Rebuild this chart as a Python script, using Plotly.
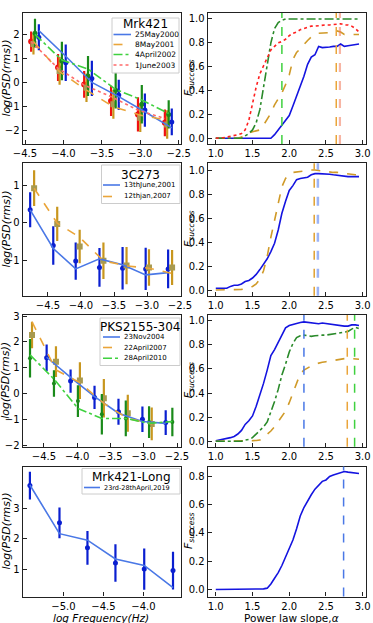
import plotly.graph_objects as go

FONT = "DejaVu Sans"

# ---------------- Left panels: PSD data ----------------
# Row 1: Mrk421
mrk_2000_x = [-4.32, -3.97, -3.63, -3.28, -2.94, -2.59]
mrk_2000_y = [1.89, 0.83, 0.18, -0.51, -1.14, -1.63]
mrk_2000_e = [0.54, 0.76, 0.73, 0.63, 0.69, 0.56]
mrk_2000_fit = [2.17, 1.10, 0.01, -0.58, -1.21, -1.88]

mrk_2001_x = [-4.39, -4.05, -3.70, -3.35, -3.00, -2.65]
mrk_2001_y = [1.61, 0.49, -0.21, -0.90, -1.46, -1.74]
mrk_2001_e = [0.44, 0.58, 0.59, 0.60, 0.59, 0.59]
mrk_2001_fit = [1.71, 0.46, -0.31, -1.00, -1.35, -1.56]

mrk_2002_x = [-4.37, -4.02, -3.68, -3.32, -2.98, -2.63]
mrk_2002_y = [2.06, 0.90, 0.28, -0.31, -0.90, -1.32]
mrk_2002_e = [0.60, 0.80, 0.83, 0.76, 0.80, 0.59]
mrk_2002_fit = [2.01, 0.94, 0.57, -0.28, -0.72, -1.28]

mrk_2003_x = [-4.42, -4.07, -3.73, -3.38, -3.03, -2.68]
mrk_2003_y = [1.71, 0.63, -0.07, -0.76, -1.32, -1.67]
mrk_2003_e = [0.42, 0.56, 0.56, 0.63, 0.71, 0.56]
mrk_2003_fit = [1.71, 0.60, -0.10, -0.58, -1.14, -1.49]

# Row 2: 3C273
c3_2001_x = [-4.77, -4.42, -4.08, -3.72, -3.37, -3.02, -2.68]
c3_2001_y = [0.35, -0.61, -1.03, -1.20, -1.22, -1.24, -1.24]
c3_2001_e = [0.47, 0.52, 0.50, 0.52, 0.57, 0.57, 0.52]
c3_2001_fit = [0.35, -0.69, -1.24, -0.97, -1.13, -1.40, -1.34]

c3_2007_x = [-4.71, -4.36, -4.02, -3.66, -3.31, -2.97, -2.62]
c3_2007_y = [0.93, -0.03, -0.64, -1.02, -1.15, -1.20, -1.20]
c3_2007_e = [0.48, 0.46, 0.45, 0.49, 0.50, 0.49, 0.47]
c3_2007_fit = [0.93, -0.01, -0.39, -1.02, -1.16, -1.22, -1.36]

# Row 3: PKS2155-304
pks_2004_x = [-4.46, -4.10, -3.74, -3.38, -3.02, -2.67]
pks_2004_y = [1.39, 0.49, -0.14, -0.69, -0.98, -1.11]
pks_2004_e = [0.51, 0.45, 0.45, 0.50, 0.49, 0.48]
pks_2004_fit = [1.41, 0.63, -0.11, -0.75, -1.07, -1.14]

pks_2007_x = [-4.68, -4.32, -3.96, -3.60, -3.24, -2.88]
pks_2007_y = [2.27, 1.24, 0.51, -0.17, -0.75, -1.16]
pks_2007_e = [0.51, 0.59, 0.71, 0.74, 0.71, 0.63]
pks_2007_fit = [2.78, 0.92, 0.43, -0.37, -0.95, -1.16]

pks_2010_x = [-4.71, -4.35, -3.99, -3.63, -3.27, -2.92, -2.57]
pks_2010_y = [1.37, 0.40, -0.28, -0.79, -0.95, -1.09, -1.09]
pks_2010_e = [0.74, 0.51, 0.61, 0.78, 0.69, 0.61, 0.55]
pks_2010_fit = [1.50, 0.57, -0.56, -0.95, -0.95, -1.14, -1.07]

# Row 4: Mrk421-Long
long_x = [-5.42, -5.05, -4.70, -4.35, -3.99, -3.63]
long_y = [3.73, 2.52, 1.71, 1.22, 1.02, 0.97]
long_e = [0.45, 0.50, 0.55, 0.61, 0.67, 0.61]
long_fit = [3.75, 2.17, 1.96, 1.35, 1.14, 0.42]

# ---------------- Right panels: F_success vs slope ----------------
slope = [1.00, 1.05, 1.10, 1.15, 1.20, 1.25, 1.30, 1.35, 1.40, 1.45,
         1.50, 1.55, 1.60, 1.65, 1.70, 1.75, 1.80, 1.85, 1.90, 1.95,
         2.00, 2.05, 2.10, 2.15, 2.20, 2.25, 2.30, 2.35, 2.40, 2.45,
         2.50, 2.55, 2.60, 2.65, 2.70, 2.75, 2.80, 2.85, 2.90, 2.95]

f_mrk_2000 = [0, 0, 0, 0, 0, 0, 0, 0, 0, 0,
              0, 0, 0, 0, 0, 0, 0.03, 0.07, 0.10, 0.14,
              0.19, 0.27, 0.35, 0.44, 0.52, 0.62, 0.68, 0.70, 0.77, 0.76,
              0.76, 0.765, 0.77, 0.77, 0.79, 0.77, 0.775, 0.78, 0.785, 0.79]
f_mrk_2001 = [0, 0, 0, 0, 0, 0, 0, 0.01, 0.03, 0.045,
              0.055, 0.06, 0.07, 0.11, 0.16, 0.21, 0.28, 0.33, 0.38, 0.45,
              0.53, 0.66, 0.72, 0.75, 0.79, 0.82, 0.85, 0.87, 0.88, 0.88,
              0.88, 0.885, 0.89, 0.90, 0.89, 0.87, 0.87, 0.87, 0.87, 0.87]
f_mrk_2002 = [0, 0, 0, 0, 0, 0, 0, 0, 0.02, 0.04,
              0.07, 0.13, 0.24, 0.42, 0.63, 0.80, 0.92, 0.97, 0.99, 1.0,
              1.0, 1.0, 1.0, 1.0, 1.0, 1.0, 1.0, 1.0, 1.0, 1.0,
              1.0, 1.0, 1.0, 1.0, 1.0, 1.0, 1.0, 1.0, 1.0, 1.0]
f_mrk_2003 = [0, 0, 0.005, 0.01, 0.015, 0.02, 0.03, 0.04, 0.07, 0.15,
              0.30, 0.43, 0.54, 0.61, 0.68, 0.74, 0.77, 0.80, 0.81, 0.83,
              0.86, 0.88, 0.89, 0.91, 0.92, 0.93, 0.94, 0.94, 0.945, 0.945,
              0.95, 0.95, 0.955, 0.96, 0.96, 0.95, 0.95, 0.94, 0.92, 0.89]

f_c3_2001 = [0.015, 0.015, 0.015, 0.015, 0.03, 0.04, 0.04, 0.05, 0.07, 0.08,
             0.10, 0.13, 0.17, 0.21, 0.26, 0.32, 0.39, 0.50, 0.64, 0.74,
             0.83, 0.87, 0.92, 0.93, 0.935, 0.94, 0.96, 0.97, 0.97, 0.97,
             0.97, 0.965, 0.96, 0.955, 0.95, 0.945, 0.945, 0.945, 0.945, 0.945]
f_c3_2007 = [0, 0, 0, 0, 0, 0, 0, 0.005, 0.01, 0.02,
             0.03, 0.05, 0.09, 0.16, 0.28, 0.44, 0.59, 0.73, 0.86, 0.93,
             0.96, 0.98, 0.985, 0.99, 0.99, 0.995, 1.0, 1.0, 0.995, 0.99,
             0.99, 0.985, 0.98, 0.98, 0.975, 0.975, 0.97, 0.965, 0.96, 0.96]

f_pks_2004 = [0.005, 0.01, 0.015, 0.02, 0.03, 0.04, 0.06, 0.09, 0.14, 0.17,
              0.21, 0.29, 0.38, 0.48, 0.59, 0.71, 0.76, 0.82, 0.89, 0.94,
              0.96, 0.97, 0.98, 0.985, 0.99, 0.985, 0.98, 0.975, 0.975, 0.98,
              0.975, 0.97, 0.965, 0.96, 0.955, 0.955, 0.955, 0.965, 0.965, 0.96]
f_pks_2007 = [0, 0, 0, 0, 0, 0, 0, 0, 0, 0,
              0.005, 0.007, 0.01, 0.03, 0.055, 0.085, 0.12, 0.16, 0.20, 0.25,
              0.32, 0.40, 0.49, 0.56, 0.59, 0.61, 0.625, 0.64, 0.65, 0.655,
              0.66, 0.665, 0.67, 0.675, 0.68, 0.685, 0.69, 0.685, 0.68, 0.68]
f_pks_2010 = [0, 0, 0, 0, 0, 0, 0, 0, 0.01, 0.015,
              0.03, 0.06, 0.09, 0.12, 0.16, 0.24, 0.33, 0.43, 0.55, 0.64,
              0.74, 0.81, 0.86, 0.875, 0.88, 0.875, 0.87, 0.875, 0.88, 0.88,
              0.88, 0.885, 0.89, 0.90, 0.905, 0.905, 0.91, 0.93, 0.945, 0.935]

f_long = [0, 0, 0, 0, 0, 0, 0, 0, 0, 0,
          0, 0, 0.002, 0.005, 0.01, 0.04, 0.08, 0.12, 0.17, 0.23,
          0.29, 0.35, 0.43, 0.52, 0.58, 0.63, 0.67, 0.71, 0.74, 0.765,
          0.775, 0.80, 0.81, 0.82, 0.83, 0.835, 0.83, 0.825, 0.825, 0.82]

# best-fit slope markers (vertical dashed lines)
vl_row1 = [1.90, 2.64, 2.69]
vl_row2 = [2.34, 2.39]
vl_row3 = [2.20, 2.79, 2.89]
vl_row4 = [2.74]

# legend labels
leg1_title, leg1_names = "Mrk421", ["25May2000", "8May2001", "4April2002", "1June2003"]
leg2_title, leg2_names = "3C273", ["13thJune,2001", "12thjan,2007"]
leg3_title, leg3_names = "PKS2155-304", ["23Nov2004", "22April2007", "28April2010"]
leg4_title, leg4_names = "Mrk421-Long", ["23rd-28thApril,2019"]

# ---------------- Styles ----------------
BLUE_PT = "#0a1fd0"
BLUE_LN = "#4a78e6"
GOLD_PT = "#c8961e"
GOLD_MK = "#a89a50"
GOLD_LN = "#eaa53a"
GREEN_PT = "#1a8a1a"
GREEN_LN = "#3fd13f"
RED_PT = "#f01010"
RED_LN = "#ff6a6a"

W, H = 373, 623
fig = go.Figure()

XL = [22.7 / W, 181 / W]
XR = [207.7 / W, 366 / W]
rows_px = [(13, 144), (163.3, 295.7), (315, 446.7), (466.5, 596.5)]
YD = [[1 - b / H, 1 - t / H] for (t, b) in rows_px]


def pts(xa, ya, x, y, e, color, mcolor, symbol, size=5):
    fig.add_trace(go.Scatter(
        x=x, y=y, mode="markers", xaxis=xa, yaxis=ya, showlegend=False,
        marker=dict(color=mcolor, symbol=symbol, size=size, line=dict(width=0)),
        error_y=dict(type="data", array=e, color=color, thickness=2.2, width=0)))


def fitline(xa, ya, x, y, color, dash):
    fig.add_trace(go.Scatter(
        x=x, y=y, mode="lines", xaxis=xa, yaxis=ya, showlegend=False,
        line=dict(color=color, dash=dash, width=1.6)))


def curve(xa, ya, y, color, dash, width=1.6):
    fig.add_trace(go.Scatter(
        x=slope, y=y, mode="lines", xaxis=xa, yaxis=ya, showlegend=False,
        line=dict(color=color, dash=dash, width=width)))


# Row 1
pts("x", "y", mrk_2003_x, mrk_2003_y, mrk_2003_e, RED_PT, RED_PT, "circle", 6)
pts("x", "y", mrk_2001_x, mrk_2001_y, mrk_2001_e, GOLD_PT, GOLD_MK, "square", 6)
pts("x", "y", mrk_2002_x, mrk_2002_y, mrk_2002_e, GREEN_PT, GREEN_PT, "circle", 5)
pts("x", "y", mrk_2000_x, mrk_2000_y, mrk_2000_e, BLUE_PT, BLUE_PT, "circle", 5)
fitline("x", "y", mrk_2000_x, mrk_2000_fit, BLUE_LN, "solid")
fitline("x", "y", mrk_2001_x, mrk_2001_fit, GOLD_LN, "dash")
fitline("x", "y", mrk_2002_x, mrk_2002_fit, GREEN_LN, "dashdot")
fitline("x", "y", mrk_2003_x, mrk_2003_fit, RED_LN, "dot")

curve("x2", "y2", f_mrk_2000, "#1414e0", "solid")
curve("x2", "y2", f_mrk_2001, "#d09a28", "dash")
curve("x2", "y2", f_mrk_2002, "#2a8a2a", "dashdot")
curve("x2", "y2", f_mrk_2003, "#ff2020", "dot")

# Row 2
pts("x3", "y3", c3_2001_x, c3_2001_y, c3_2001_e, BLUE_PT, BLUE_PT, "circle", 5)
pts("x3", "y3", c3_2007_x, c3_2007_y, c3_2007_e, GOLD_PT, GOLD_MK, "square", 6)
fitline("x3", "y3", c3_2001_x, c3_2001_fit, BLUE_LN, "solid")
fitline("x3", "y3", c3_2007_x, c3_2007_fit, GOLD_LN, "dash")

curve("x4", "y4", f_c3_2001, "#1414e0", "solid")
curve("x4", "y4", f_c3_2007, "#d09a28", "dash")

# Row 3
pts("x5", "y5", pks_2004_x, pks_2004_y, pks_2004_e, BLUE_PT, BLUE_PT, "circle", 5)
pts("x5", "y5", pks_2007_x, pks_2007_y, pks_2007_e, GOLD_PT, GOLD_MK, "square", 6)
pts("x5", "y5", pks_2010_x, pks_2010_y, pks_2010_e, GREEN_PT, GREEN_PT, "circle", 4)
fitline("x5", "y5", pks_2004_x, pks_2004_fit, BLUE_LN, "solid")
fitline("x5", "y5", pks_2007_x, pks_2007_fit, GOLD_LN, "dash")
fitline("x5", "y5", pks_2010_x, pks_2010_fit, GREEN_LN, "dashdot")

curve("x6", "y6", f_pks_2004, "#1414e0", "solid")
curve("x6", "y6", f_pks_2007, "#d09a28", "dash")
curve("x6", "y6", f_pks_2010, "#2a8a2a", "dashdot")

# Row 4
pts("x7", "y7", long_x, long_y, long_e, BLUE_PT, BLUE_PT, "circle", 5)
fitline("x7", "y7", long_x, long_fit, BLUE_LN, "solid")

curve("x8", "y8", f_long, "#1414e0", "solid")

shapes = []
# vertical dashed lines
vcolors = {
    "x2": ["#3fd13f", "#eaa53a", "rgba(240,120,90,0.55)"],
    "x4": ["#e0a030", "rgba(90,130,240,0.6)"],
    "x6": ["#4a78e6", "#eaa53a", "#3fd13f"],
    "x8": ["#4a78e6"],
}
vwidths = {"x2": [1.5, 1.5, 2.2], "x4": [1.5, 2.5], "x6": [1.5, 1.5, 1.5], "x8": [1.5]}
for xa, ya, vals in [("x2", "y2", vl_row1), ("x4", "y4", vl_row2),
                     ("x6", "y6", vl_row3), ("x8", "y8", vl_row4)]:
    for i, v in enumerate(vals):
        shapes.append(dict(type="line", xref=xa, yref=ya + " domain", x0=v, x1=v, y0=0, y1=1,
                           line=dict(color=vcolors[xa][i], width=vwidths[xa][i], dash="dash")))

# axes
tickfont = dict(family=FONT, size=10, color="black")


def ax(domain, rng, anchor, tickvals=None, fmt=None):
    d = dict(domain=domain, range=rng, anchor=anchor, showgrid=False, zeroline=False,
             showline=True, mirror=True, linecolor="#222", linewidth=1.3,
             ticks="inside", ticklen=4, tickwidth=1, tickcolor="#222",
             tickfont=tickfont, automargin=False)
    if tickvals is not None:
        d["tickvals"] = tickvals
    if fmt is not None:
        d["tickformat"] = fmt
    return d


lx_t = [-4.5, -4.0, -3.5, -3.0, -2.5]
rx_t = [1.0, 1.5, 2.0, 2.5, 3.0]
ry_t = [0, 0.2, 0.4, 0.6, 0.8, 1.0]

layout = dict(
    xaxis=ax(XL, [-4.53, -2.47], "y", lx_t, ".1f"),
    yaxis=ax(YD[0], [-2.55, 2.9], "x", [-2, -1, 0, 1, 2], "d"),
    xaxis2=ax(XR, [0.89, 3.045], "y2", rx_t, ".1f"),
    yaxis2=ax(YD[0], [-0.048, 1.05], "x2", ry_t, ".1f"),
    xaxis3=ax(XL, [-4.883, -2.485], "y3", lx_t, ".1f"),
    yaxis3=ax(YD[1], [-1.96, 1.6], "x3", [-1, 0, 1], "d"),
    xaxis4=ax(XR, [0.89, 3.045], "y4", rx_t, ".1f"),
    yaxis4=ax(YD[1], [-0.0475, 1.056], "x4", ry_t, ".1f"),
    xaxis5=ax(XL, [-4.82, -2.44], "y5", lx_t, ".1f"),
    yaxis5=ax(YD[2], [-2.04, 3.04], "x5", [-2, -1, 0, 1, 2, 3], "d"),
    xaxis6=ax(XR, [0.89, 3.045], "y6", rx_t, ".1f"),
    yaxis6=ax(YD[2], [-0.045, 1.047], "x6", ry_t, ".1f"),
    xaxis7=ax(XL, [-5.51, -3.53], "y7", [-5.0, -4.5, -4.0], ".1f"),
    yaxis7=ax(YD[3], [0.13, 4.35], "x7", [1, 2, 3], "d"),
    xaxis8=ax(XR, [0.89, 3.045], "y8", rx_t, ".1f"),
    yaxis8=ax(YD[3], [-0.049, 0.87], "x8", [0, 0.2, 0.4, 0.6, 0.8], ".1f"),
)

annots = []


def px(xp):
    return xp / W


def py(yp):
    return 1 - yp / H


# custom legends (box, title, line samples, labels)
def legend(box, title, title_y, names, styles, ys, lx0, lx1, tx, fs, tfs=12):
    x0, y0, x1, y1 = box
    shapes.append(dict(type="rect", xref="paper", yref="paper", x0=px(x0), x1=px(x1),
                       y0=py(y1), y1=py(y0), fillcolor="rgba(255,255,255,0.9)",
                       line=dict(color="#cccccc", width=1)))
    annots.append(dict(text=title, x=px((x0 + x1) / 2), y=py(title_y), xref="paper",
                       yref="paper", showarrow=False, xanchor="center", yanchor="middle",
                       font=dict(family=FONT, size=tfs, color="black")))
    for name, (col, dash), yy in zip(names, styles, ys):
        shapes.append(dict(type="line", xref="paper", yref="paper", x0=px(lx0), x1=px(lx1),
                           y0=py(yy), y1=py(yy), line=dict(color=col, dash=dash, width=1.6)))
        annots.append(dict(text=name, x=px(tx), y=py(yy), xref="paper", yref="paper",
                           showarrow=False, xanchor="left", yanchor="middle",
                           font=dict(family=FONT, size=fs, color="black")))


legend((112, 18, 179, 73), leg1_title, 24.5, leg1_names,
       [(BLUE_LN, "solid"), (GOLD_LN, "dash"), (GREEN_LN, "dashdot"), (RED_LN, "dot")],
       [34.5, 44.5, 54.5, 65], 113.5, 131, 132.5, 7.5)
legend((101.5, 165, 180, 203.5), leg2_title, 175, leg2_names,
       [(BLUE_LN, "solid"), (GOLD_LN, "dash")],
       [185, 196.5], 103, 120, 122, 7)
legend((100, 318, 180, 365.5), leg3_title, 326.5, leg3_names,
       [(BLUE_LN, "solid"), (GOLD_LN, "dash"), (GREEN_LN, "dashdot")],
       [337, 347.5, 358.3], 103, 120, 122, 7)
legend((82, 468.5, 180, 494), leg4_title, 476.5, leg4_names,
       [(BLUE_LN, "solid")],
       [487.5], 84, 100, 101.5, 6.5)

row_cy = [1 - ((t + b) / 2) / H for (t, b) in rows_px]
for cy in row_cy:
    annots.append(dict(text="<i>log(PSD(rms))</i>", x=6 / W, y=cy, xref="paper", yref="paper",
                       textangle=-90, showarrow=False, xanchor="center", yanchor="middle",
                       font=dict(family=FONT, size=11, color="black")))
    annots.append(dict(text="<i>F<sub>success</sub></i>", x=188.5 / W, y=cy, xref="paper",
                       yref="paper", textangle=-90, showarrow=False, xanchor="center",
                       yanchor="middle", font=dict(family=FONT, size=11, color="black")))
annots.append(dict(text="<i>log Frequency(Hz)</i>", x=101 / W, y=py(617.5),
                   xref="paper", yref="paper", showarrow=False, xanchor="center",
                   yanchor="middle", font=dict(family=FONT, size=10.5, color="black")))
annots.append(dict(text="Power law slope,<i>α</i>", x=291 / W, y=py(617.5),
                   xref="paper", yref="paper", showarrow=False, xanchor="center",
                   yanchor="middle", font=dict(family=FONT, size=10.5, color="black")))

fig.update_layout(**layout)
fig.update_layout(
    shapes=shapes,
    annotations=annots,
    showlegend=False,
    width=W, height=H,
    margin=dict(l=0, r=0, t=0, b=0, pad=0),
    paper_bgcolor="white", plot_bgcolor="white",
    font=dict(family=FONT, size=10, color="black"),
)

fig.write_html("out.html", config={"displayModeBar": False},
               post_script="document.body.style.margin='0';document.body.style.overflow='hidden';")
